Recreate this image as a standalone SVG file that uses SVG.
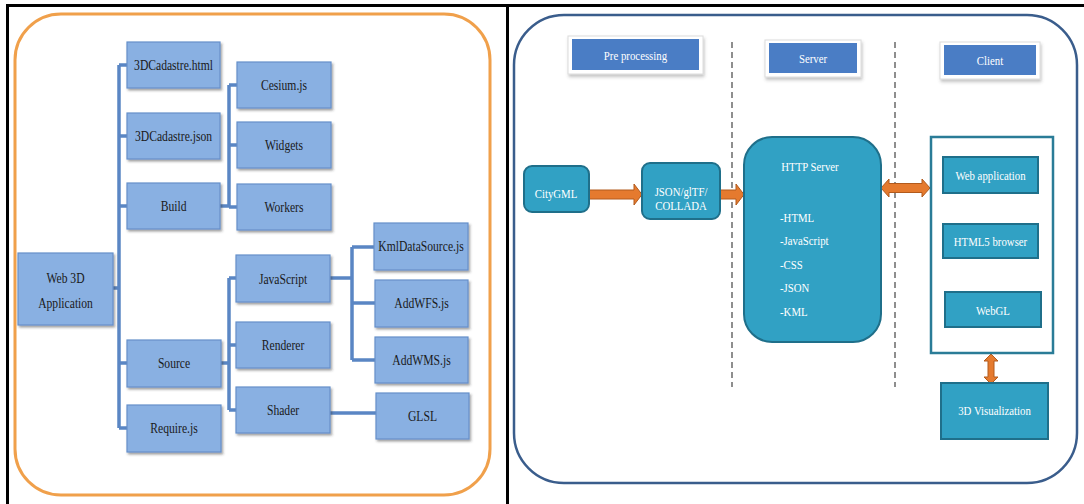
<svg xmlns="http://www.w3.org/2000/svg" width="1084" height="504" viewBox="0 0 1084 504" font-family="'Liberation Serif', 'DejaVu Serif', serif">
<defs>
<filter id="sh" x="-10%" y="-10%" width="130%" height="140%"><feDropShadow dx="1.5" dy="2" stdDeviation="1.1" flood-color="#333" flood-opacity="0.45"/></filter>
<filter id="sh2" x="-10%" y="-20%" width="130%" height="160%"><feDropShadow dx="1" dy="2.5" stdDeviation="1.8" flood-color="#555" flood-opacity="0.35"/></filter>
</defs>
<style>
text{font-family:'Liberation Serif','DejaVu Serif',serif}
.t{font-size:14.5px;text-anchor:middle;transform-box:fill-box;transform-origin:center;transform:scaleX(0.8)}
.s{text-anchor:start;transform-origin:0% 50%}
.sm{font-size:13.5px}
.dk{fill:#1a1a1a}
.wh{fill:#ffffff}
.lb{fill:#89B0E2;stroke:#6690CA;stroke-width:1.2;filter:url(#sh)}
.tl{fill:#31A1C4;stroke:#1F6F8A;stroke-width:2}
.hd{fill:#4A7DC5}
.hf{fill:#ffffff;stroke:#dcdcdc;stroke-width:1;filter:url(#sh2)}
.cn{stroke:#5A86C4;stroke-width:3.5;fill:none}
.ar{fill:#E57A2E;stroke:#B25A1C;stroke-width:1}
.ds{stroke:#444;stroke-width:1.2;stroke-dasharray:6 4;fill:none}
</style>
<rect width="1084" height="504" fill="#ffffff"/>
<g id="frame" stroke="#000" stroke-width="3" fill="none">
<line x1="6" y1="5.5" x2="1084" y2="5.5"/>
<line x1="7.5" y1="4" x2="7.5" y2="504"/>
<line x1="507.5" y1="4" x2="507.5" y2="504"/>
</g>
<rect id="left-panel" x="15" y="14" width="475" height="481" rx="46" fill="none" stroke="#F0A04B" stroke-width="3"/>
<rect id="right-panel" x="514" y="15" width="563" height="468" rx="50" fill="none" stroke="#3A5D8C" stroke-width="2.5"/>

<g id="connectors">
<path class="cn" d="M119 65V428M119 65H127M119 136H127M119 206H127M119 363H127M119 428H127M113 288H119"/>
<path class="cn" d="M229 85V207M219 206H229M229 85H237M229 145H237M229 207H237"/>
<path class="cn" d="M229 278V410M221 363H229M229 278H236M229 345H236M229 410H236"/>
<path class="cn" d="M352 247V360M330 278H352M352 247H374M352 303H375M352 360H375"/>
<path class="cn" d="M330 413H376"/>
<line class="ds" x1="732" y1="42" x2="732" y2="387"/>
<line class="ds" x1="895" y1="42" x2="895" y2="387"/>
<polygon class="ar" points="589,190 634,190 634,184 642,194.5 634,205 634,199 589,199"/>
<polygon class="ar" points="720,190 736,190 736,184 744,194.5 736,205 736,199 720,199"/>
<polygon class="ar" points="881,188 889,179 889,183.5 922,183.5 922,179 930,188 922,197 922,192.5 889,192.5 889,197"/>
<polygon class="ar" points="991,354 998,361 994,361 994,377 998,377 991,384 984,377 988,377 988,361 984,361"/>
</g>

<g id="n-web3d"><rect class="lb" x="18" y="253" width="95" height="72"/><text class="t dk" x="65.5" y="283">Web 3D</text><text class="t dk" x="65.5" y="308">Application</text></g>
<g id="n-html"><rect class="lb" x="127" y="42" width="93" height="46"/><text class="t dk" x="173.5" y="70">3DCadastre.html</text></g>
<g id="n-json"><rect class="lb" x="127" y="113" width="93" height="46"/><text class="t dk" x="173.5" y="141">3DCadastre.json</text></g>
<g id="n-build"><rect class="lb" x="127" y="183" width="93" height="46"/><text class="t dk" x="173.5" y="211">Build</text></g>
<g id="n-source"><rect class="lb" x="127" y="340" width="94" height="47"/><text class="t dk" x="174" y="368">Source</text></g>
<g id="n-require"><rect class="lb" x="127" y="405" width="94" height="47"/><text class="t dk" x="174" y="433">Require.js</text></g>
<g id="n-cesium"><rect class="lb" x="237" y="62" width="94" height="46"/><text class="t dk" x="284" y="90">Cesium.js</text></g>
<g id="n-widgets"><rect class="lb" x="237" y="122" width="94" height="46"/><text class="t dk" x="284" y="150">Widgets</text></g>
<g id="n-workers"><rect class="lb" x="237" y="184" width="94" height="46"/><text class="t dk" x="284" y="212">Workers</text></g>
<g id="n-javascript"><rect class="lb" x="236" y="255" width="94" height="47"/><text class="t dk" x="283" y="284">JavaScript</text></g>
<g id="n-renderer"><rect class="lb" x="236" y="322" width="94" height="46"/><text class="t dk" x="283" y="350">Renderer</text></g>
<g id="n-shader"><rect class="lb" x="236" y="387" width="94" height="46"/><text class="t dk" x="283" y="415">Shader</text></g>
<g id="n-kml"><rect class="lb" x="374" y="223" width="94" height="47"/><text class="t dk" x="421" y="251">KmlDataSource.js</text></g>
<g id="n-addwfs"><rect class="lb" x="375" y="280" width="93" height="47"/><text class="t dk" x="421.5" y="308">AddWFS.js</text></g>
<g id="n-addwms"><rect class="lb" x="375" y="337" width="93" height="46"/><text class="t dk" x="421.5" y="365">AddWMS.js</text></g>
<g id="n-glsl"><rect class="lb" x="376" y="393" width="93" height="46"/><text class="t dk" x="422.5" y="421">GLSL</text></g>

<g id="h-pre"><rect class="hf" x="568" y="36" width="135" height="38"/><rect class="hd" x="572" y="39" width="127" height="31"/><text class="t wh sm" x="635.5" y="60">Pre processing</text></g>
<g id="h-server"><rect class="hf" x="765" y="40" width="96" height="37"/><rect class="hd" x="769" y="43" width="88" height="30"/><text class="t wh sm" x="813" y="63">Server</text></g>
<g id="h-client"><rect class="hf" x="940" y="42" width="100" height="37"/><rect class="hd" x="944" y="45" width="92" height="30"/><text class="t wh sm" x="990" y="65">Client</text></g>

<g id="n-citygml"><rect class="tl" x="524" y="166" width="65" height="46" rx="8"/><text class="t wh sm" x="556" y="198">CityGML</text></g>
<g id="n-jsongltf"><rect class="tl" x="642" y="163" width="78" height="56" rx="8"/><text class="t wh sm" x="681" y="196">JSON/glTF/</text><text class="t wh sm" x="681" y="210">COLLADA</text></g>
<g id="n-http"><rect class="tl" x="744" y="137" width="137" height="205" rx="28"/><text class="t wh sm" x="810" y="171">HTTP Server</text>
<text class="t s wh sm" x="780" y="222">-HTML</text>
<text class="t s wh sm" x="780" y="245.5">-JavaScript</text>
<text class="t s wh sm" x="780" y="269">-CSS</text>
<text class="t s wh sm" x="780" y="292">-JSON</text>
<text class="t s wh sm" x="780" y="316">-KML</text></g>
<g id="n-client"><rect x="931" y="137" width="122" height="216" fill="#ffffff" stroke="#2A7C97" stroke-width="2.5"/>
<rect class="tl" x="943" y="157" width="95" height="36"/><text class="t wh sm" x="990.5" y="180">Web application</text>
<rect class="tl" x="943" y="224" width="95" height="34"/><text class="t wh sm" x="990.5" y="246">HTML5 browser</text>
<rect class="tl" x="945" y="292" width="96" height="35"/><text class="t wh sm" x="993" y="315">WebGL</text></g>
<g id="n-3dvis"><rect class="tl" x="941" y="383" width="107" height="56"/><text class="t wh sm" x="994.5" y="415">3D Visualization</text></g>
</svg>
